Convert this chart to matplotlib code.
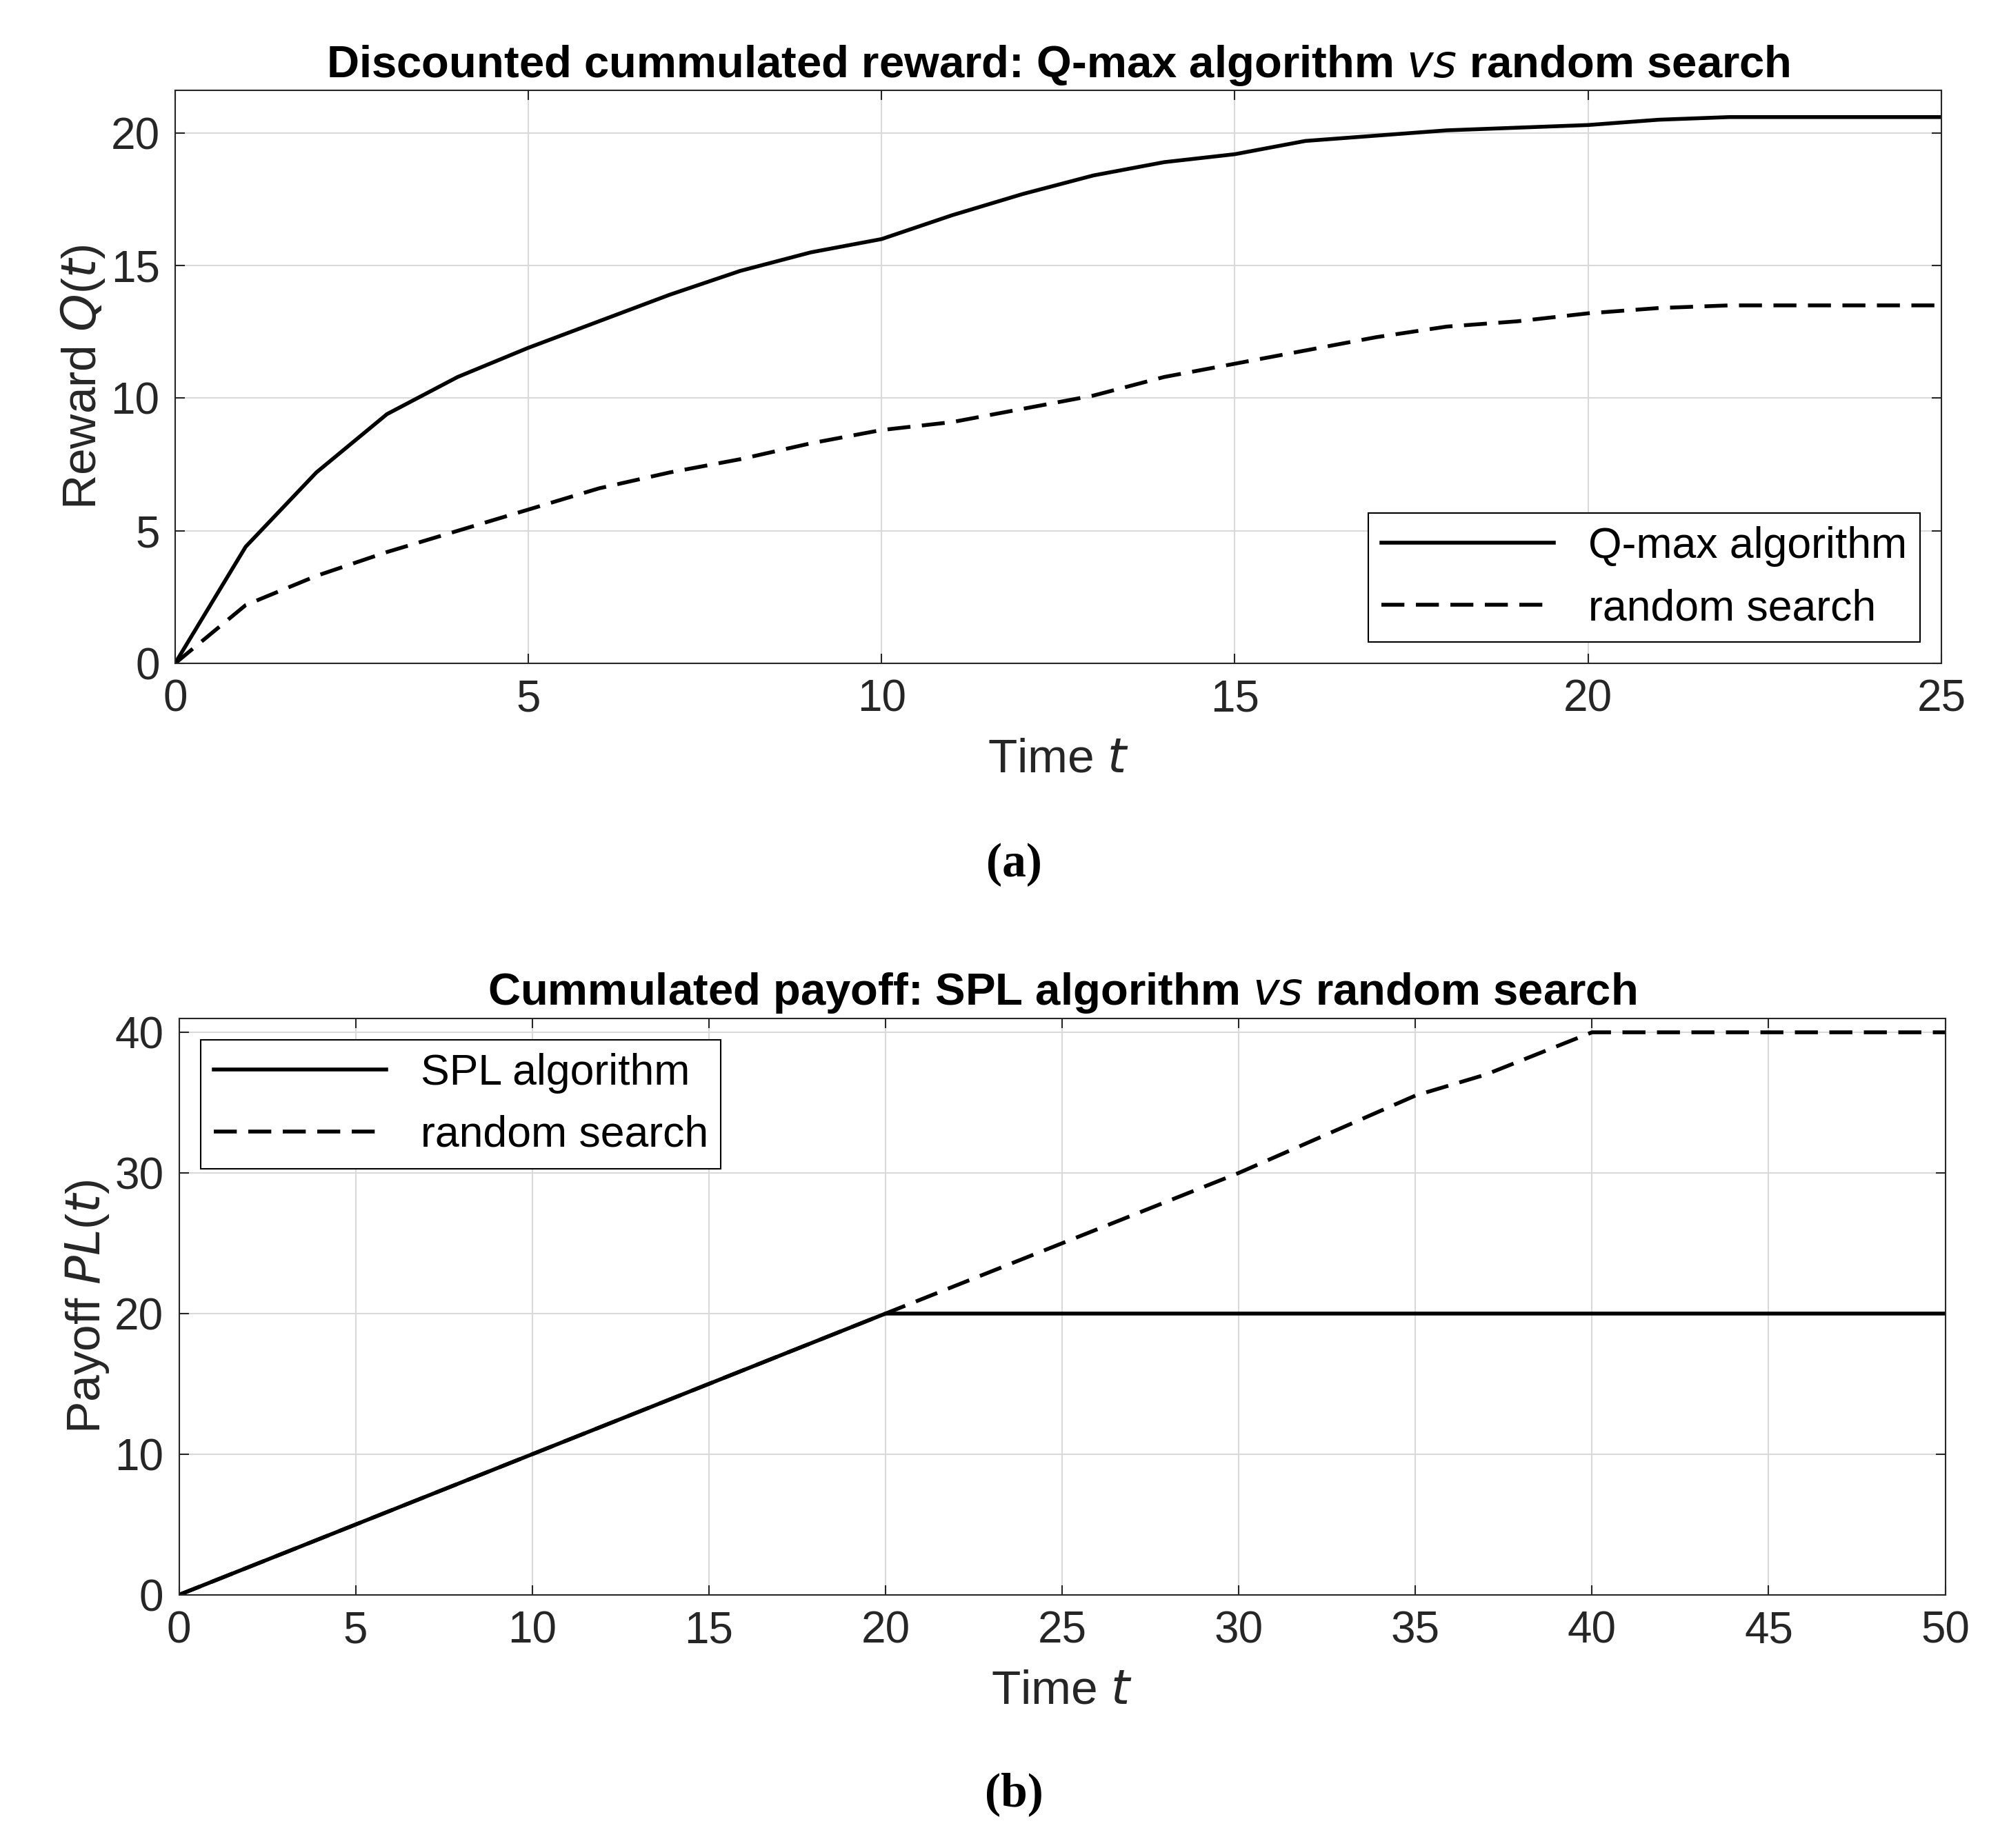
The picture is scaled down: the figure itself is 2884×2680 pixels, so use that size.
import numpy as np
import matplotlib.pyplot as plt

# (a) discounted cumulated reward
t_a = np.arange(0, 26)
q_max = [0, 4.4, 7.2, 9.4, 10.8, 11.9, 12.9, 13.9, 14.8, 15.5, 16.0, 16.9, 17.7, 18.4,
         18.9, 19.2, 19.7, 19.9, 20.1, 20.2, 20.3, 20.5, 20.6, 20.6, 20.6, 20.6]
rand_a = [0, 2.2, 3.3, 4.2, 5.0, 5.8, 6.6, 7.2, 7.7, 8.3, 8.8, 9.1, 9.6, 10.1,
          10.8, 11.3, 11.8, 12.3, 12.7, 12.9, 13.2, 13.4, 13.5, 13.5, 13.5, 13.5]

# (b) cumulated payoff
t_spl = [0, 20, 50]
spl = [0, 20, 20]
t_rand_b = [0, 20, 25, 30, 35, 37, 40, 50]
rand_b = [0, 20, 25, 30, 35.5, 37, 40, 40]

tc = '#262626'
plt.rcParams['font.family'] = ['Liberation Sans', 'DejaVu Sans']
fig = plt.figure(figsize=(28.84, 26.8), dpi=100)

def style(ax):
    ax.grid(True, color='#d9d9d9', linewidth=1.5)
    ax.set_axisbelow(True)
    ax.tick_params(labelsize=46, colors=tc, length=10, width=1.5, direction='in', pad=16,
                   top=True, right=True)
    for s in ax.spines.values():
        s.set_linewidth(1.5)
        s.set_color(tc)

ax1 = fig.add_axes([0.088, 0.641, 0.888, 0.310])
ax1.plot(t_a, q_max, 'k-', lw=4, label='Q-max algorithm')
ax1.plot(t_a, rand_a, 'k--', lw=4, dashes=(6, 3), label='random search')
ax1.set_xlim(0, 25)
ax1.set_ylim(0, 21.6)
ax1.set_xticks([0, 5, 10, 15, 20, 25])
ax1.set_yticks([0, 5, 10, 15, 20])
style(ax1)
ax1.set_xlabel('Time $\\it{t}$', fontsize=50, color=tc, labelpad=18)
ax1.set_ylabel('Reward $\\it{Q}$($\\it{t}$)', fontsize=50, color=tc)
ax1.set_title('Discounted cummulated reward: Q-max algorithm $\\bf{\\it{vs}}$ random search',
              fontsize=47, fontweight='bold', pad=14)
leg = ax1.legend(loc='lower right', fontsize=45, fancybox=False, edgecolor='k',
                 handlelength=4, borderpad=0.3, framealpha=1)
leg.get_frame().set_linewidth(1.5)

ax2 = fig.add_axes([0.090, 0.137, 0.888, 0.312])
ax2.plot(t_spl, spl, 'k-', lw=4, label='SPL algorithm')
ax2.plot(t_rand_b, rand_b, 'k--', lw=4, dashes=(6, 3), label='random search')
ax2.set_xlim(0, 50)
ax2.set_ylim(0, 41)
ax2.set_xticks(range(0, 51, 5))
ax2.set_yticks([0, 10, 20, 30, 40])
style(ax2)
ax2.set_xlabel('Time $\\it{t}$', fontsize=50, color=tc, labelpad=18)
ax2.set_ylabel('Payoff $\\it{PL}$($\\it{t}$)', fontsize=50, color=tc)
ax2.set_title('Cummulated payoff: SPL algorithm $\\bf{\\it{vs}}$ random search',
              fontsize=47, fontweight='bold', pad=14)
leg = ax2.legend(loc='upper left', fontsize=45, fancybox=False, edgecolor='k',
                 handlelength=4, borderpad=0.3, framealpha=1)
leg.get_frame().set_linewidth(1.5)

fig.text(0.51, 0.532, '(a)', fontsize=50, fontweight='bold', family='Liberation Serif',
         ha='center', va='center')
fig.text(0.51, 0.029, '(b)', fontsize=50, fontweight='bold', family='Liberation Serif',
         ha='center', va='center')

fig.savefig('out.png', dpi=100, facecolor='white')
